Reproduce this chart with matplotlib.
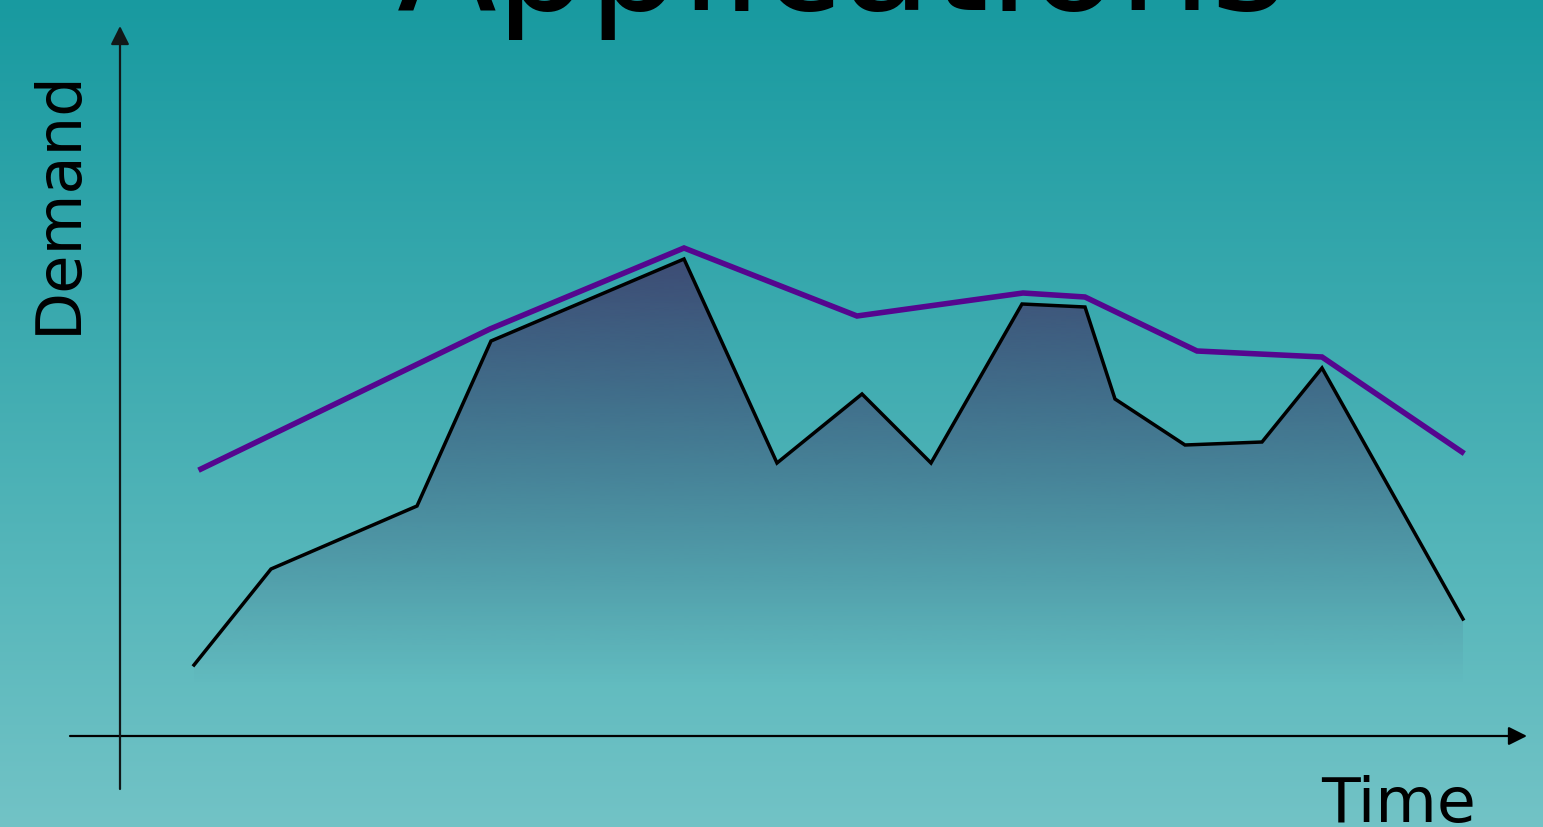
import numpy as np
import matplotlib
matplotlib.use("Agg")
import matplotlib.pyplot as plt
from matplotlib.patches import Polygon

# ---- data (time units, demand units) ----
demand_time = [74, 151, 297, 371, 564, 657, 742, 811, 902, 965, 995, 1065, 1142, 1202, 1343]
demand_vals = [71, 167, 230, 395, 477, 273, 342, 273, 432, 429, 337, 291, 294, 368, 117]
capacity_time = [81, 370, 564, 737, 903, 965, 1077, 1202, 1342]
capacity_vals = [267, 407, 488, 420, 443, 439, 385, 379, 284]

title_text = "Applications"
x_label = "Time"
y_label = "Demand"

W, H, DPI = 1543, 828, 100
fig = plt.figure(figsize=(W / DPI, H / DPI), dpi=DPI)
ax = fig.add_axes([0, 0, 1, 1])
x0, x1, y0, y1 = -120, 1423, -91, 737
ax.set_xlim(x0, x1)
ax.set_ylim(y0, y1)
ax.axis("off")

# background gradient
top = np.array([24, 154, 160]) / 255
bot = np.array([114, 195, 198]) / 255
t = np.linspace(0, 1, 400)[:, None]
grad = (top[None, :] * (1 - t) + bot[None, :] * t)[:, None, :]
ax.imshow(grad, extent=[x0, x1, y0, y1], aspect="auto", zorder=0, interpolation="bicubic")

# gradient fill under demand
fill_rgb = np.array([64, 58, 106]) / 255
ys = np.linspace(0, 490, 500)
alpha = np.clip((ys - 50) / (480 - 50), 0, 1) ** 1.1 * 0.84
rgba = np.zeros((len(ys), 1, 4))
rgba[:, 0, :3] = fill_rgb
rgba[:, 0, 3] = alpha
im = ax.imshow(rgba[::-1], extent=[demand_time[0], demand_time[-1], 0, 490],
               aspect="auto", zorder=1, interpolation="bicubic")
verts = list(zip(demand_time, demand_vals)) + [(demand_time[-1], 0), (demand_time[0], 0)]
poly = Polygon(verts, closed=True, facecolor="none", edgecolor="none", transform=ax.transData)
ax.add_patch(poly)
im.set_clip_path(poly)

# lines
ax.plot(demand_time, demand_vals, color="black", lw=2.5, zorder=3, solid_joinstyle="miter")
ax.plot(capacity_time, capacity_vals, color="#55068f", lw=4.0, zorder=4, solid_joinstyle="miter")

# axes arrows
ax.annotate("", xy=(1407, 0), xytext=(-50, 0),
            arrowprops=dict(arrowstyle="-|>", lw=1.6, color="black", mutation_scale=28,
                            shrinkA=0, shrinkB=0), zorder=5)
ax.annotate("", xy=(0, 710), xytext=(0, -53),
            arrowprops=dict(arrowstyle="-|>", lw=1.6, color="#111818", mutation_scale=28,
                            shrinkA=0, shrinkB=0), zorder=5)

# texts
ax.text(722, 727, title_text, fontsize=105, ha="center", va="baseline",
        family="DejaVu Sans", color="black", zorder=6)
ax.text(-61, 535, y_label, fontsize=45, rotation=90, ha="center", va="center",
        family="DejaVu Sans", color="black", zorder=6)
ax.text(1201, -85, x_label, fontsize=45.5, ha="left", va="baseline",
        family="DejaVu Sans", color="black", zorder=6)

fig.savefig("out.png", dpi=DPI)
